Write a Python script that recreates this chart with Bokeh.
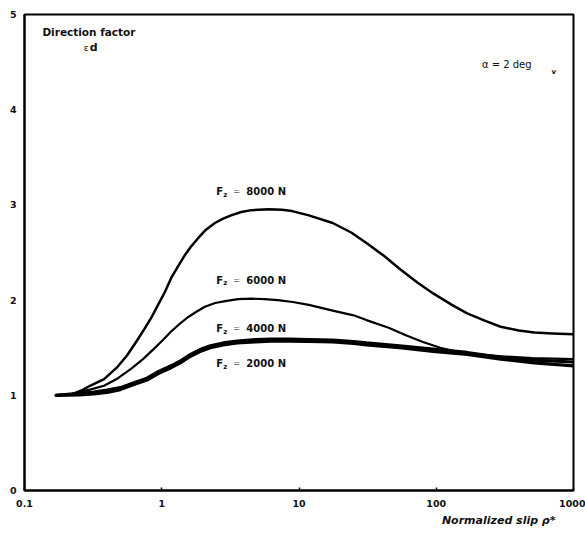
from bokeh.plotting import figure
from bokeh.models import FixedTicker, CustomJSTickFormatter, Label, ColumnDataSource, Title
from bokeh.core.properties import value
from bokeh.embed import file_html
from bokeh.resources import INLINE

# ---- data ----
x_ticks = [0.1, 1, 10, 100, 1000]
x_tick_labels = ["0.1", "1", "10", "100", "1000"]
y_ticks = [0, 1, 2, 3, 4, 5]

slip_8000 = [0.17, 0.22, 0.26, 0.30, 0.38, 0.47, 0.56, 0.65, 0.75, 0.85, 0.94, 1.05, 1.17, 1.32, 1.47,
             1.65, 1.84, 2.1, 2.44, 2.8, 3.2, 3.8, 4.5, 6.0, 7.5, 8.9, 11.8, 17.6, 24, 31, 42, 54,
             72, 95, 130, 168, 230, 295, 400, 519, 700, 1000]
cd_8000 = [1.00, 1.01, 1.05, 1.10, 1.17, 1.29, 1.42, 1.56, 1.70, 1.83, 1.95, 2.08, 2.23, 2.36, 2.47,
           2.57, 2.65, 2.74, 2.81, 2.855, 2.89, 2.925, 2.945, 2.955, 2.95, 2.935, 2.89, 2.81, 2.71, 2.60,
           2.46, 2.33, 2.19, 2.07, 1.95, 1.86, 1.78, 1.72, 1.68, 1.66, 1.65, 1.64]

slip_6000 = [0.17, 0.22, 0.26, 0.30, 0.38, 0.48, 0.6, 0.73, 0.88, 1.02, 1.17, 1.35, 1.55, 1.8, 2.06, 2.45,
             2.9, 3.6, 4.5, 5.6, 7.0, 9, 11.8, 17.6, 25, 31, 45, 60, 80, 107, 140, 200, 300, 500, 1000]
cd_6000 = [1.00, 1.01, 1.04, 1.06, 1.10, 1.18, 1.28, 1.38, 1.49, 1.58, 1.67, 1.75, 1.82, 1.88, 1.93, 1.97,
           1.99, 2.01, 2.015, 2.01, 2.00, 1.98, 1.95, 1.89, 1.84, 1.79, 1.71, 1.63, 1.56, 1.50, 1.46,
           1.43, 1.41, 1.39, 1.38]

slip_4000 = [0.17, 0.25, 0.32, 0.4, 0.5, 0.62, 0.78, 0.95, 1.17, 1.4, 1.62, 1.9, 2.26, 2.8, 3.55,
             4.8, 6.2, 8.5, 11.8, 17.6, 25, 31, 54, 95, 168, 295, 519, 1000]
cd_4000 = [1.00, 1.02, 1.035, 1.055, 1.08, 1.13, 1.18, 1.25, 1.31, 1.37, 1.43, 1.48, 1.52, 1.55, 1.57,
           1.585, 1.59, 1.59, 1.585, 1.58, 1.565, 1.55, 1.52, 1.485, 1.45, 1.40, 1.37, 1.35]

slip_2000 = [0.17, 0.25, 0.32, 0.4, 0.5, 0.62, 0.78, 0.95, 1.17, 1.4, 1.62, 1.9, 2.26, 2.8, 3.55,
             4.8, 6.2, 8.5, 11.8, 17.6, 25, 31, 54, 95, 168, 295, 519, 1000]
cd_2000 = [1.00, 1.005, 1.015, 1.03, 1.06, 1.11, 1.16, 1.23, 1.29, 1.35, 1.41, 1.46, 1.50, 1.53, 1.55,
           1.56, 1.57, 1.57, 1.565, 1.56, 1.545, 1.53, 1.50, 1.46, 1.43, 1.38, 1.34, 1.31]

load_labels = ["8000 N", "6000 N", "4000 N", "2000 N"]
load_label_slip = [2.5, 2.5, 2.5, 2.5]
load_label_cd = [3.14, 2.21, 1.70, 1.33]

FONT = "DejaVu Sans"

p = figure(width=585, height=535, x_axis_type="log", x_range=(0.1, 1000), y_range=(0, 5),
           output_backend="svg", toolbar_location=None,
           min_border_left=24, min_border_right=12, min_border_top=14, min_border_bottom=45)
p.background_fill_color = "white"
p.border_fill_color = "white"
p.xgrid.visible = False
p.ygrid.visible = False
p.outline_line_color = "black"
p.outline_line_width = 2

# axes
p.xaxis.ticker = FixedTicker(ticks=x_ticks)
p.xaxis.formatter = CustomJSTickFormatter(args=dict(tvals=x_ticks, tlabels=x_tick_labels), code="""
    for (let i = 0; i < tvals.length; i++) {
        if (Math.abs(Math.log10(tvals[i]) - Math.log10(tick)) < 1e-6) return tlabels[i];
    }
    return '';
""")
p.yaxis.ticker = FixedTicker(ticks=y_ticks)
for ax in (p.xaxis[0], p.yaxis[0]):
    ax.axis_line_color = "black"
    ax.axis_line_width = 2
    ax.major_tick_in = 3
    ax.major_tick_out = 0
    ax.major_tick_line_width = 1.5
    ax.minor_tick_line_color = None
    ax.major_label_text_font = FONT
    ax.major_label_text_font_style = "bold"
    ax.major_label_text_font_size = "9.5px"
    ax.major_label_text_color = "#111111"
p.yaxis.major_tick_line_color = None
p.xaxis.major_label_standoff = 9
p.yaxis.major_label_standoff = 8

# x-axis caption, right-aligned under the axis
p.add_layout(Title(text="Normalized slip ρ*", align="right", offset=18, standoff=4,
                   text_font=FONT, text_font_size="11px", text_font_style="bold italic",
                   text_color="#111111"), "below")

# curves
p.line(slip_8000, cd_8000, line_color="black", line_width=2.5, line_join="round", line_cap="round")
p.line(slip_6000, cd_6000, line_color="black", line_width=2.2, line_join="round", line_cap="round")
p.line(slip_4000, cd_4000, line_color="black", line_width=3.2, line_join="round", line_cap="round")
p.line(slip_2000, cd_2000, line_color="black", line_width=3.2, line_join="round", line_cap="round")

# curve labels: F with subscript z, "=", load value
src = ColumnDataSource(dict(x=load_label_slip, y=load_label_cd, t=load_labels))
p.text(x="x", y="y", text=value("F"), source=src, text_font=value(FONT), text_font_style="bold",
       text_font_size="10px", text_baseline="middle", text_color="#111111")
p.text(x="x", y="y", text=value("z"), source=src, x_offset=7, y_offset=3, text_font=value(FONT),
       text_font_style="bold", text_font_size="7px", text_baseline="middle", text_color="#111111")
p.text(x="x", y="y", text=value("="), source=src, x_offset=17, text_font=value(FONT),
       text_font_size="8px", text_baseline="middle", text_color="#555555")
p.text(x="x", y="y", text="t", source=src, x_offset=30, text_font=value(FONT), text_font_style="bold",
       text_font_size="10px", text_baseline="middle", text_color="#111111")

# annotation texts
def add_label(x, y, text, size="10px", style="bold", align="left", xo=0, yo=0):
    p.add_layout(Label(x=x, y=y, text=text, x_offset=xo, y_offset=yo, text_font=FONT,
                       text_font_size=size, text_font_style=style, text_align=align,
                       text_baseline="middle", text_color="#111111"))

add_label(0.135, 4.82, "Direction factor", size="10.5px")
add_label(0.27, 4.65, "ε", size="9px", style="normal")
add_label(0.27, 4.65, "d", size="11px", xo=6)
add_label(215, 4.47, "α = 2 deg", size="10px", style="normal")
add_label(690, 4.40, "v", size="7px")

open("out.html", "w").write(file_html(p, INLINE))
